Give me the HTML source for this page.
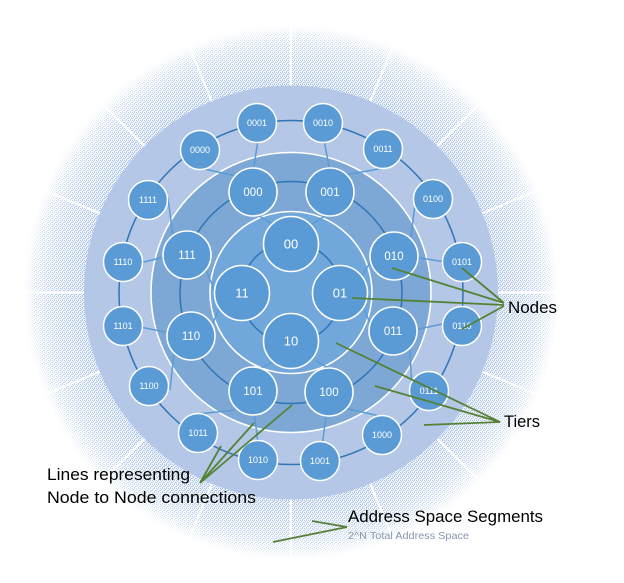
<!DOCTYPE html>
<html><head><meta charset="utf-8"><style>
html,body{margin:0;padding:0;background:#fff;}
svg{display:block;}
text{font-family:"Liberation Sans",sans-serif;}
</style></head><body>
<svg width="624" height="583" viewBox="0 0 624 583" xmlns="http://www.w3.org/2000/svg">
<defs>
  <pattern id="dots" width="4" height="4" patternUnits="userSpaceOnUse">
    <rect x="0" y="0" width="1" height="1" fill="#A6BFE8"/>
    <rect x="2" y="0" width="1" height="1" fill="#A6BFE8"/>
    <rect x="1" y="1" width="1" height="1" fill="#A6BFE8"/>
    <rect x="3" y="2" width="1" height="1" fill="#A6BFE8"/>
    <rect x="0" y="2" width="1" height="1" fill="#A6BFE8"/>
    <rect x="2" y="3" width="1" height="1" fill="#A6BFE8"/>
  </pattern>
  <radialGradient id="fade" gradientUnits="userSpaceOnUse" cx="291" cy="292.5" r="268">
    <stop offset="0" stop-color="#fff" stop-opacity="1"/>
    <stop offset="0.77" stop-color="#fff" stop-opacity="1"/>
    <stop offset="0.88" stop-color="#fff" stop-opacity="0.75"/>
    <stop offset="0.95" stop-color="#fff" stop-opacity="0.4"/>
    <stop offset="1" stop-color="#fff" stop-opacity="0"/>
  </radialGradient>
  <radialGradient id="tone" gradientUnits="userSpaceOnUse" cx="291" cy="292.5" r="268">
    <stop offset="0.77" stop-color="#DDE6F5" stop-opacity="0.45"/>
    <stop offset="0.92" stop-color="#E8EEF8" stop-opacity="0.25"/>
    <stop offset="1" stop-color="#FFFFFF" stop-opacity="0"/>
  </radialGradient>
  <mask id="m" maskUnits="userSpaceOnUse" x="0" y="0" width="624" height="583">
    <circle cx="291" cy="292.5" r="268" fill="url(#fade)"/>
  </mask>
</defs>

<!-- outer dotted address-space ring -->
<circle cx="291" cy="292.5" r="268" fill="url(#tone)"/>
<circle cx="291" cy="292.5" r="268" fill="url(#dots)" mask="url(#m)"/>
<g stroke="#fff" stroke-width="2.2" transform="translate(291,292.5)">
  <line x1="0" y1="-205" x2="0" y2="-272" transform="rotate(0)"/>
  <line x1="0" y1="-205" x2="0" y2="-272" transform="rotate(22.5)"/>
  <line x1="0" y1="-205" x2="0" y2="-272" transform="rotate(45)"/>
  <line x1="0" y1="-205" x2="0" y2="-272" transform="rotate(67.5)"/>
  <line x1="0" y1="-205" x2="0" y2="-272" transform="rotate(90)"/>
  <line x1="0" y1="-205" x2="0" y2="-272" transform="rotate(112.5)"/>
  <line x1="0" y1="-205" x2="0" y2="-272" transform="rotate(135)"/>
  <line x1="0" y1="-205" x2="0" y2="-272" transform="rotate(157.5)"/>
  <line x1="0" y1="-205" x2="0" y2="-272" transform="rotate(180)"/>
  <line x1="0" y1="-205" x2="0" y2="-272" transform="rotate(202.5)"/>
  <line x1="0" y1="-205" x2="0" y2="-272" transform="rotate(225)"/>
  <line x1="0" y1="-205" x2="0" y2="-272" transform="rotate(247.5)"/>
  <line x1="0" y1="-205" x2="0" y2="-272" transform="rotate(270)"/>
  <line x1="0" y1="-205" x2="0" y2="-272" transform="rotate(292.5)"/>
  <line x1="0" y1="-205" x2="0" y2="-272" transform="rotate(315)"/>
  <line x1="0" y1="-205" x2="0" y2="-272" transform="rotate(337.5)"/>
</g>

<!-- tiers -->
<circle cx="291" cy="292.5" r="207" fill="#B4C7E7"/>
<circle cx="291" cy="292.5" r="140" fill="#7DA7D4" stroke="#fff" stroke-width="1.6"/>
<circle cx="291" cy="292.5" r="81" fill="#71A7DA" stroke="#fff" stroke-width="1.6"/>

<!-- ring connections -->
<g fill="none" stroke="#2E75B6" stroke-width="1.5">
  <circle cx="291" cy="292.5" r="172"/>
  <circle cx="291" cy="292.5" r="111"/>
  <circle cx="291" cy="292.5" r="50"/>
</g>

<!-- cross-tier connections -->
<g stroke="#5B9BD5" stroke-width="1.5">
  <line x1="200" y1="168" x2="236" y2="176"/>
  <line x1="258" y1="140" x2="253" y2="172"/>
  <line x1="168" y1="198" x2="173" y2="237"/>
  <line x1="140" y1="263" x2="168" y2="256"/>
  <line x1="253" y1="212" x2="274" y2="225"/>
  <line x1="206" y1="270" x2="216" y2="294"/>
  <line x1="324" y1="140" x2="330" y2="172"/>
  <line x1="384" y1="168" x2="345" y2="175"/>
  <line x1="331" y1="212" x2="309" y2="226"/>
  <line x1="416" y1="196" x2="411" y2="237"/>
  <line x1="446" y1="262" x2="414" y2="257"/>
  <line x1="375" y1="255" x2="361" y2="277"/>
  <line x1="447" y1="323" x2="414" y2="330"/>
  <line x1="412" y1="392" x2="410" y2="350"/>
  <line x1="373" y1="333" x2="365" y2="310"/>
  <line x1="384" y1="417" x2="344" y2="408"/>
  <line x1="322" y1="446" x2="327" y2="410"/>
  <line x1="332" y1="370" x2="316" y2="361"/>
  <line x1="258" y1="443" x2="254" y2="411"/>
  <line x1="198" y1="414" x2="235" y2="410"/>
  <line x1="258" y1="370" x2="276" y2="360"/>
  <line x1="170" y1="390" x2="174" y2="353"/>
  <line x1="140" y1="327" x2="170" y2="333"/>
  <line x1="212" y1="325" x2="223" y2="300"/>
</g>

<!-- 4-bit nodes -->
<g fill="#5B9BD5" stroke="#fff" stroke-width="1.5">
  <circle cx="257" cy="123" r="19.5"/>
  <circle cx="323" cy="123" r="19.5"/>
  <circle cx="383" cy="149" r="19.5"/>
  <circle cx="433" cy="199" r="19.5"/>
  <circle cx="462" cy="262" r="19.5"/>
  <circle cx="462" cy="326" r="19.5"/>
  <circle cx="429" cy="391" r="19.5"/>
  <circle cx="382" cy="435" r="19.5"/>
  <circle cx="320" cy="461" r="19.5"/>
  <circle cx="258" cy="460" r="19.5"/>
  <circle cx="198" cy="433" r="19.5"/>
  <circle cx="149" cy="386" r="19.5"/>
  <circle cx="123" cy="326" r="19.5"/>
  <circle cx="123" cy="262" r="19.5"/>
  <circle cx="148" cy="200" r="19.5"/>
  <circle cx="200" cy="150" r="19.5"/>
</g>
<g fill="#fff" font-size="9" text-anchor="middle">
  <text x="257" y="126.2">0001</text>
  <text x="323" y="126.2">0010</text>
  <text x="383" y="152.2">0011</text>
  <text x="433" y="202.2">0100</text>
  <text x="462" y="265.2">0101</text>
  <text x="462" y="329.2">0110</text>
  <text x="429" y="394.2">0111</text>
  <text x="382" y="438.2">1000</text>
  <text x="320" y="464.2">1001</text>
  <text x="258" y="463.2">1010</text>
  <text x="198" y="436.2">1011</text>
  <text x="149" y="389.2">1100</text>
  <text x="123" y="329.2">1101</text>
  <text x="123" y="265.2">1110</text>
  <text x="148" y="203.2">1111</text>
  <text x="200" y="153.2">0000</text>
</g>

<!-- 3-bit nodes -->
<g fill="#5B9BD5" stroke="#fff" stroke-width="1.6">
  <circle cx="253" cy="192" r="24"/>
  <circle cx="330" cy="192" r="24"/>
  <circle cx="394" cy="256" r="24"/>
  <circle cx="393" cy="331" r="24"/>
  <circle cx="329" cy="392" r="24"/>
  <circle cx="253" cy="391" r="24"/>
  <circle cx="191" cy="336" r="24"/>
  <circle cx="187" cy="255" r="24"/>
</g>
<g fill="#fff" font-size="11.5" text-anchor="middle">
  <text x="253" y="196">000</text>
  <text x="330" y="196">001</text>
  <text x="394" y="260">010</text>
  <text x="393" y="335">011</text>
  <text x="329" y="396">100</text>
  <text x="253" y="395">101</text>
  <text x="191" y="340">110</text>
  <text x="187" y="259">111</text>
</g>

<!-- 2-bit nodes -->
<g fill="#5B9BD5" stroke="#fff" stroke-width="1.6">
  <circle cx="291" cy="244" r="27.5"/>
  <circle cx="340" cy="293" r="27.5"/>
  <circle cx="291" cy="341" r="27.5"/>
  <circle cx="242" cy="293" r="27.5"/>
</g>
<g fill="#fff" font-size="13" text-anchor="middle">
  <text x="291" y="248.5">00</text>
  <text x="340" y="297.5">01</text>
  <text x="291" y="345.5">10</text>
  <text x="242" y="297.5">11</text>
</g>

<!-- callout lines -->
<g stroke="#548235" stroke-width="1.8" fill="none">
  <line x1="392" y1="268" x2="504" y2="303"/>
  <line x1="462" y1="268" x2="504" y2="303"/>
  <line x1="352" y1="298" x2="504" y2="305"/>
  <line x1="462" y1="329" x2="504" y2="306"/>
  <line x1="336" y1="343" x2="500" y2="422"/>
  <line x1="375" y1="386" x2="500" y2="422"/>
  <line x1="424" y1="425" x2="500" y2="422"/>
  <line x1="292" y1="405" x2="200" y2="483"/>
  <line x1="254" y1="423" x2="200" y2="483"/>
  <line x1="221" y1="446" x2="200" y2="483"/>
  <line x1="312" y1="521" x2="347" y2="527"/>
  <line x1="273" y1="542" x2="347" y2="527"/>
</g>

<!-- labels -->
<g fill="#000" font-size="17">
  <text x="508" y="313" textLength="49" lengthAdjust="spacingAndGlyphs">Nodes</text>
  <text x="504" y="427" textLength="36" lengthAdjust="spacingAndGlyphs">Tiers</text>
  <text x="47" y="480" textLength="143" lengthAdjust="spacingAndGlyphs">Lines representing</text>
  <text x="47" y="503" textLength="209" lengthAdjust="spacingAndGlyphs">Node to Node connections</text>
  <text x="348" y="522" textLength="195" lengthAdjust="spacingAndGlyphs">Address Space Segments</text>
</g>
<text x="348" y="539" font-size="10.5" fill="#8496B0" textLength="121" lengthAdjust="spacingAndGlyphs">2^N Total Address Space</text>
</svg>
</body></html>
